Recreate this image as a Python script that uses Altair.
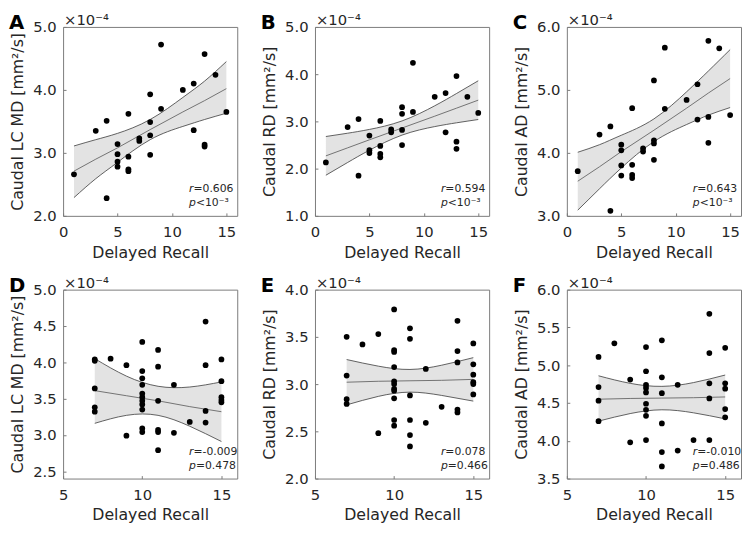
import altair as alt
import pandas as pd

# ---------------- data (values in units of 1e-4 mm^2/s) ----------------
A_x = [1, 3, 4, 4, 5, 5, 5, 5, 6, 6, 6, 6, 7, 7, 8, 8, 8, 8, 9, 9, 11, 12, 12, 13, 13, 13, 14, 15]
A_y = [2.66, 3.35, 3.51, 2.28, 3.14, 2.98, 2.86, 2.78, 3.62, 2.94, 2.74, 2.71, 3.23, 3.19,
       3.93, 3.49, 3.28, 2.97, 4.72, 3.70, 4.00, 4.10, 3.36, 4.57, 3.13, 3.10, 4.24, 3.65]
B_x = [1, 3, 4, 4, 5, 5, 5, 6, 6, 6, 6, 7, 7, 8, 8, 8, 8, 9, 9, 11, 12, 12, 13, 13, 13, 14, 15]
B_y = [2.13, 2.88, 3.05, 1.85, 2.70, 2.39, 2.33, 3.01, 2.48, 2.31, 2.24, 2.83, 2.77, 3.30,
       3.16, 2.82, 2.50, 4.24, 3.20, 3.52, 3.60, 2.77, 3.96, 2.57, 2.42, 3.52, 3.18]
C_x = [1, 3, 4, 4, 5, 5, 5, 5, 6, 6, 6, 6, 7, 7, 8, 8, 8, 8, 9, 9, 11, 12, 12, 13, 13, 13, 14, 15]
C_y = [3.71, 4.29, 4.42, 3.08, 4.13, 4.04, 3.80, 3.64, 4.71, 3.81, 3.65, 3.60, 4.07, 4.02,
       5.15, 4.20, 4.15, 3.89, 5.67, 4.70, 4.84, 5.09, 4.53, 5.78, 4.57, 4.16, 5.66, 4.60]
D_x = [7, 7, 7, 7, 7, 8, 9, 9, 10, 10, 10, 10, 10, 10, 10, 10, 10, 10, 10, 11, 11, 11, 11, 11, 11,
       12, 12, 13, 14, 14, 14, 14, 15, 15, 15, 15, 15]
D_y = [4.04, 4.02, 3.64, 3.38, 3.32, 4.05, 3.96, 2.99, 4.28, 3.88, 3.78, 3.69, 3.57, 3.52, 3.47,
       3.42, 3.35, 3.09, 3.04, 4.17, 3.94, 3.47, 3.07, 3.04, 2.79, 3.69, 3.03, 3.18, 4.56, 3.96,
       3.33, 3.17, 4.04, 3.74, 3.52, 3.48, 3.45]
E_x = [7, 7, 7, 7, 8, 9, 9, 10, 10, 10, 10, 10, 10, 10, 10, 10, 10, 10, 11, 11, 11, 11, 11, 11,
       12, 12, 13, 14, 14, 14, 14, 14, 15, 15, 15, 15, 15, 15]
E_y = [3.50, 3.09, 2.84, 2.79, 3.42, 3.53, 2.48, 3.79, 3.36, 3.34, 3.18, 3.03, 3.00, 2.95, 2.93,
       2.85, 2.62, 2.56, 3.59, 3.48, 2.88, 2.62, 2.46, 2.34, 3.16, 2.59, 2.76, 3.67, 3.35, 3.23,
       2.73, 2.70, 3.43, 3.21, 3.10, 3.02, 3.00, 2.89]
F_x = [7, 7, 7, 7, 8, 9, 9, 10, 10, 10, 10, 10, 10, 10, 10, 10, 11, 11, 11, 11, 11, 11, 12, 12,
       13, 14, 14, 14, 14, 14, 15, 15, 15, 15, 15]
F_y = [5.11, 4.71, 4.53, 4.26, 5.29, 4.81, 3.98, 5.24, 4.92, 4.74, 4.70, 4.64, 4.49, 4.41, 4.33,
       4.01, 5.33, 4.84, 4.63, 4.23, 3.85, 3.66, 4.74, 3.87, 4.01, 5.68, 5.16, 4.76, 4.56, 4.01,
       5.23, 4.76, 4.69, 4.42, 4.31]

# regression line and confidence band
TOP_BX = [1, 3, 5, 8, 11, 13, 15]
A_lo = [2.29, 2.59, 2.85, 3.21, 3.42, 3.53, 3.63]
A_fit = [2.71, 2.90, 3.08, 3.37, 3.65, 3.83, 4.02]
A_hi = [3.11, 3.21, 3.31, 3.53, 3.88, 4.14, 4.45]
B_lo = [1.86, 2.13, 2.39, 2.71, 2.89, 2.97, 3.04]
B_fit = [2.27, 2.44, 2.61, 2.86, 3.11, 3.28, 3.45]
B_hi = [2.68, 2.75, 2.83, 3.01, 3.33, 3.59, 3.86]
C_lo = [3.09, 3.43, 3.76, 4.18, 4.45, 4.60, 4.72]
C_fit = [3.55, 3.78, 4.02, 4.36, 4.71, 4.95, 5.18]
C_hi = [4.01, 4.13, 4.28, 4.54, 4.97, 5.30, 5.64]
BOT_BX = [7, 9, 11, 13, 15]
D_lo = [3.16, 3.27, 3.27, 3.12, 2.91]
D_fit = [3.61, 3.54, 3.47, 3.39, 3.32]
D_hi = [4.05, 3.81, 3.67, 3.66, 3.73]
E_lo = [2.78, 2.87, 2.915, 2.88, 2.82]
E_fit = [3.02, 3.03, 3.035, 3.04, 3.05]
E_hi = [3.26, 3.19, 3.155, 3.20, 3.28]
F_lo = [4.26, 4.36, 4.41, 4.37, 4.29]
F_fit = [4.55, 4.56, 4.565, 4.57, 4.58]
F_hi = [4.86, 4.76, 4.72, 4.77, 4.87]

LETTERS = ["A", "B", "C", "D", "E", "F"]
Y_TITLES = ["Caudal LC MD [mm²/s]", "Caudal RD [mm²/s]", "Caudal AD [mm²/s]",
            "Caudal LC MD [mm²/s]", "Caudal RD [mm²/s]", "Caudal AD [mm²/s]"]
R_VALS = ["=0.606", "=0.594", "=0.643", "=-0.009", "=0.078", "=-0.010"]
P_VALS = ["<10⁻³", "<10⁻³", "<10⁻³", "=0.478", "=0.466", "=0.486"]
Y_DOMAINS = [[2.0, 5.0], [1.0, 5.0], [3.0, 6.0], [2.4, 5.0], [2.0, 4.0], [3.5, 6.0]]
Y_TICKS = [[2.0, 3.0, 4.0, 5.0], [1.0, 2.0, 3.0, 4.0, 5.0], [3.0, 4.0, 5.0, 6.0],
           [2.5, 3.0, 3.5, 4.0, 4.5, 5.0], [2.0, 2.5, 3.0, 3.5, 4.0],
           [3.5, 4.0, 4.5, 5.0, 5.5, 6.0]]
TOP_XDOM, TOP_XTICKS = [0, 16], [0, 5, 10, 15]
BOT_XDOM, BOT_XTICKS = [5, 16], [5, 10, 15]

W, H = 177, 192
FONT = "DejaVu Sans"
INK = "#262626"
FRAME = "#7a7a7a"


def panel(i, xs, ys, bx, lo, fit, hi, xdom, xticks):
    pts = pd.DataFrame({"x": xs, "y": ys})
    band = pd.DataFrame({"x": bx, "lo": lo, "fit": fit, "hi": hi})
    xsc = alt.Scale(domain=xdom, nice=False, zero=False)
    ysc = alt.Scale(domain=Y_DOMAINS[i], nice=False, zero=False)
    # negative offset + small tick size -> ticks pointing into the box (MATLAB style)
    xax = alt.Axis(values=xticks, title="Delayed Recall", format="d", grid=False,
                   ticks=True, tickSize=3, offset=-3, domain=False, labelPadding=9,
                   titlePadding=5, labelFlush=False)
    yax = alt.Axis(values=Y_TICKS[i], title=Y_TITLES[i], format=".1f", grid=False,
                   ticks=True, tickSize=3, offset=-3, domain=False, labelPadding=7,
                   titlePadding=7)

    def X(f):
        return alt.X(f"{f}:Q", scale=xsc, axis=xax)

    def Y(f):
        return alt.Y(f"{f}:Q", scale=ysc, axis=yax)

    base = alt.Chart(band)
    area = base.mark_area(color="#e3e3e3", opacity=1, interpolate="natural").encode(
        x=X("x"), y=Y("lo"), y2="hi:Q")
    lines = [base.mark_line(color="#3a3a3a", strokeWidth=0.8, interpolate="natural")
             .encode(x=X("x"), y=Y(f)) for f in ("hi", "lo")]
    fitl = base.mark_line(color="#555555", strokeWidth=0.8).encode(x=X("x"), y=Y("fit"))
    points = alt.Chart(pts).mark_circle(color="black", size=34, opacity=1).encode(
        x=X("x"), y=Y("y"))

    def txt(s, px, py, baseline="alphabetic", **kw):
        return alt.Chart(pd.DataFrame({"t": [s]})).mark_text(
            font=FONT, baseline=baseline, align="left", **kw).encode(
            x=alt.value(px), y=alt.value(py), text="t:N")

    letter = txt(LETTERS[i], -55, -14, baseline="top", fontSize=20, fontWeight="bold",
                 color="black")
    expo = txt("×10⁻⁴", 1, -14, baseline="top", fontSize=15, color=INK)
    rx = W - 49
    r1 = txt("r", rx, H - 24, fontSize=11, fontStyle="italic", color=INK)
    r2 = txt(R_VALS[i], rx + 4.5, H - 24, fontSize=11, color=INK)
    p1 = txt("p", rx, H - 10, fontSize=11, fontStyle="italic", color=INK)
    p2 = txt(P_VALS[i], rx + 7, H - 10, fontSize=11, color=INK)

    return alt.layer(area, *lines, fitl, points, letter, expo, r1, r2, p1, p2).properties(
        width=W, height=H)


top = alt.hconcat(
    panel(0, A_x, A_y, TOP_BX, A_lo, A_fit, A_hi, TOP_XDOM, TOP_XTICKS),
    panel(1, B_x, B_y, TOP_BX, B_lo, B_fit, B_hi, TOP_XDOM, TOP_XTICKS),
    panel(2, C_x, C_y, TOP_BX, C_lo, C_fit, C_hi, TOP_XDOM, TOP_XTICKS),
    spacing=22)
bottom = alt.hconcat(
    panel(3, D_x, D_y, BOT_BX, D_lo, D_fit, D_hi, BOT_XDOM, BOT_XTICKS),
    panel(4, E_x, E_y, BOT_BX, E_lo, E_fit, E_hi, BOT_XDOM, BOT_XTICKS),
    panel(5, F_x, F_y, BOT_BX, F_lo, F_fit, F_hi, BOT_XDOM, BOT_XTICKS),
    spacing=22)

chart = alt.vconcat(top, bottom, spacing=14).properties(
    padding=0, background="white"
).configure_view(stroke=FRAME, strokeWidth=1).configure_axis(
    labelFont=FONT, labelFontSize=15, labelColor=INK, tickColor=FRAME, tickWidth=1,
    titleFont=FONT, titleFontSize=16, titleFontWeight="normal", titleColor=INK)

chart.save("out.html", embed_options={"renderer": "svg", "actions": False})
